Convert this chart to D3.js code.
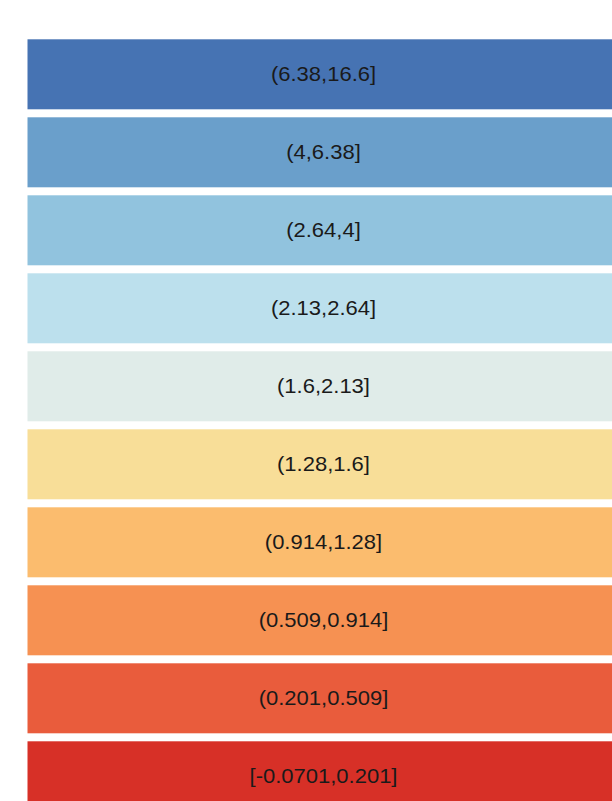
<!DOCTYPE html>
<html>
<head>
<meta charset="utf-8">
<script src="https://cdn.jsdelivr.net/npm/d3@7"></script>
<style>
  html, body { margin: 0; padding: 0; background: #ffffff; overflow: hidden; }
  svg { display: block; }
</style>
</head>
<body>
<script>
// Legend classes (top to bottom)
const categories = [
  "(6.38,16.6]",
  "(4,6.38]",
  "(2.64,4]",
  "(2.13,2.64]",
  "(1.6,2.13]",
  "(1.28,1.6]",
  "(0.914,1.28]",
  "(0.509,0.914]",
  "(0.201,0.509]",
  "[-0.0701,0.201]"
];
const classColors = [
  "#4673b3", "#6a9fcb", "#91c3de", "#bce0ed", "#e0ece9",
  "#f8de98", "#fbbc6e", "#f69152", "#e95c3c", "#d73027"
];

const W = 612, H = 801;
const svg = d3.select("body").append("svg").attr("width", W).attr("height", H);

const x0 = 27.5, x1 = 640;
const y = d3.scaleBand()
  .domain(categories)
  .range([39.3, 39.3 + 78 * categories.length - 8])
  .paddingInner(8 / 78)
  .paddingOuter(0);

const color = d3.scaleOrdinal().domain(categories).range(classColors);

const g = svg.append("g");
g.selectAll("rect").data(categories).join("rect")
  .attr("x", x0)
  .attr("y", d => y(d))
  .attr("width", x1 - x0)
  .attr("height", y.bandwidth())
  .attr("fill", d => color(d));

const cx = 323.5;
g.selectAll("text").data(categories).join("text")
  .attr("transform", d => `translate(${cx},${y(d) + y.bandwidth() / 2 + 6.9}) scale(1.1,1)`)
  .attr("text-anchor", "middle")
  .attr("font-family", "Liberation Sans, Arial, sans-serif")
  .attr("font-size", 20)
  .attr("fill", "#1a1a1a")
  .text(d => d);
</script>
</body>
</html>
